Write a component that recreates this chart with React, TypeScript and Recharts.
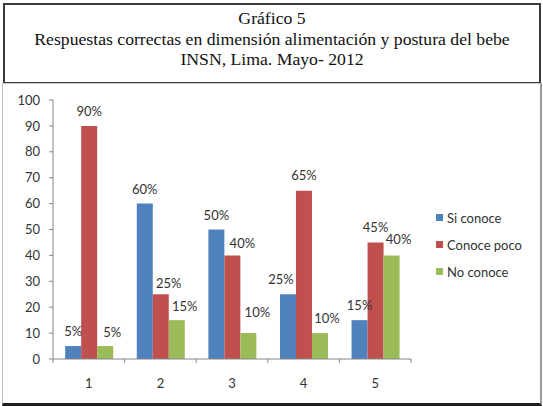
import React from 'react';
import { BarChart, Bar, XAxis, YAxis, Legend, LabelList } from 'recharts';

const categories = ['1', '2', '3', '4', '5'];
const siConoce = [5, 60, 50, 25, 15];
const conocePoco = [90, 25, 40, 65, 45];
const noConoce = [5, 15, 10, 10, 40];
const yTicks = [0, 10, 20, 30, 40, 50, 60, 70, 80, 90, 100];

const chartData = categories.map((name, i) => ({
  name,
  si: siConoce[i],
  poco: conocePoco[i],
  no: noConoce[i],
}));

const W = 543;
const H = 406;
const MARGIN = { top: 100, right: 132, left: 0, bottom: 17 };
const Y_WIDTH = 53;
const BAND = (W - Y_WIDTH - MARGIN.right) / categories.length;
const AXIS_COLOR = '#868686';
const TEXT_COLOR = '#333';
const FONT = 'Lato, "Open Sans", sans-serif';

// hand-placed label nudges [dx, dy] per series, so labels don't collide
const nudges: Record<string, [number, number][]> = {
  si: [[0, 0], [0, 0], [0, 0], [-7, 0], [0, 0]],
  poco: [[0, 0], [8, 4], [10, 3], [0, -1], [0, 0]],
  no: [[7, 1], [8, 1], [9, -6], [7, 0], [7, -1]],
};

const series = [
  { key: 'si', name: 'Si conoce', color: '#4F81BD' },
  { key: 'poco', name: 'Conoce poco', color: '#C0504D' },
  { key: 'no', name: 'No conoce', color: '#9BBB59' },
];

const makeLabel = (key: string) => (props: any) => {
  const { x, y, width, value, index } = props;
  const [dx, dy] = nudges[key][index] || [0, 0];
  return (
    <text
      x={x + width / 2 + dx}
      y={y - 10 + dy}
      textAnchor="middle"
      fontSize={13}
      fontFamily={FONT}
      fill={TEXT_COLOR}
    >
      {`${value}%`}
    </text>
  );
};

// category label plus Excel-style tick marks on the band edges
const XTick = (props: any) => {
  const { x, y, payload, index } = props;
  const axisY = y - 20;
  return (
    <g>
      <line x1={x - BAND / 2} x2={x - BAND / 2} y1={axisY} y2={axisY + 4} stroke={AXIS_COLOR} />
      {index === categories.length - 1 && (
        <line x1={x + BAND / 2} x2={x + BAND / 2} y1={axisY} y2={axisY + 4} stroke={AXIS_COLOR} />
      )}
      <text x={x} y={y} dy="0.71em" textAnchor="middle" fontSize={13} fontFamily={FONT} fill={TEXT_COLOR}>
        {payload.value}
      </text>
    </g>
  );
};

const LegendBox = () => (
  <div style={{ fontFamily: FONT, fontSize: 13, color: TEXT_COLOR }}>
    {series.map(s => (
      <div key={s.key} style={{ display: 'flex', alignItems: 'center', height: 27 }}>
        <span style={{ width: 7, height: 7, background: s.color, marginRight: 4, display: 'inline-block' }} />
        <span>{s.name}</span>
      </div>
    ))}
  </div>
);

export default function App() {
  return (
    <div style={{ position: 'absolute', left: 0, top: 0, width: W, height: H, background: '#fff' }}>
      <div
        style={{
          position: 'absolute',
          left: 3,
          top: 3,
          width: 534,
          height: 74,
          border: '2px solid #3a3a3a',
          fontFamily: '"Liberation Serif", "Times New Roman", serif',
          fontSize: 17.7,
          lineHeight: '20.5px',
          color: '#111',
          textAlign: 'center',
          paddingTop: 3,
          boxSizing: 'content-box',
        }}
      >
        <div>Gráfico 5</div>
        <div>Respuestas correctas en dimensión alimentación y postura del bebe</div>
        <div>INSN, Lima. Mayo- 2012</div>
      </div>
      <div
        style={{
          position: 'absolute',
          left: 2,
          top: 83,
          width: 537,
          height: 319,
          borderTop: '1px solid #c8c8c8',
          borderLeft: '1px solid #bdbdbd',
          borderRight: '2px solid #9a9a9a',
          borderBottom: '3px solid #1e1e1e',
        }}
      />
      <div style={{ position: 'absolute', left: 0, top: 0 }}>
        <BarChart width={W} height={H} data={chartData} margin={MARGIN} barCategoryGap="17%" barGap={0}>
          <XAxis
            dataKey="name"
            stroke={AXIS_COLOR}
            tickLine={false}
            tickSize={4}
            tickMargin={16}
            tick={<XTick />}
            interval={0}
          />
          <YAxis
            width={Y_WIDTH}
            domain={[0, 100]}
            ticks={yTicks}
            interval={0}
            stroke={AXIS_COLOR}
            tickSize={4}
            tickMargin={9}
            tick={{ fontSize: 13, fontFamily: FONT, fill: TEXT_COLOR }}
          />
          <Legend
            layout="vertical"
            align="center"
            verticalAlign="middle"
            content={<LegendBox />}
            wrapperStyle={{ left: 436, top: 204, width: 100 }}
          />
          {series.map(s => (
            <Bar key={s.key} dataKey={s.key} name={s.name} fill={s.color} isAnimationActive={false}>
              <LabelList dataKey={s.key} content={makeLabel(s.key)} />
            </Bar>
          ))}
        </BarChart>
      </div>
    </div>
  );
}
